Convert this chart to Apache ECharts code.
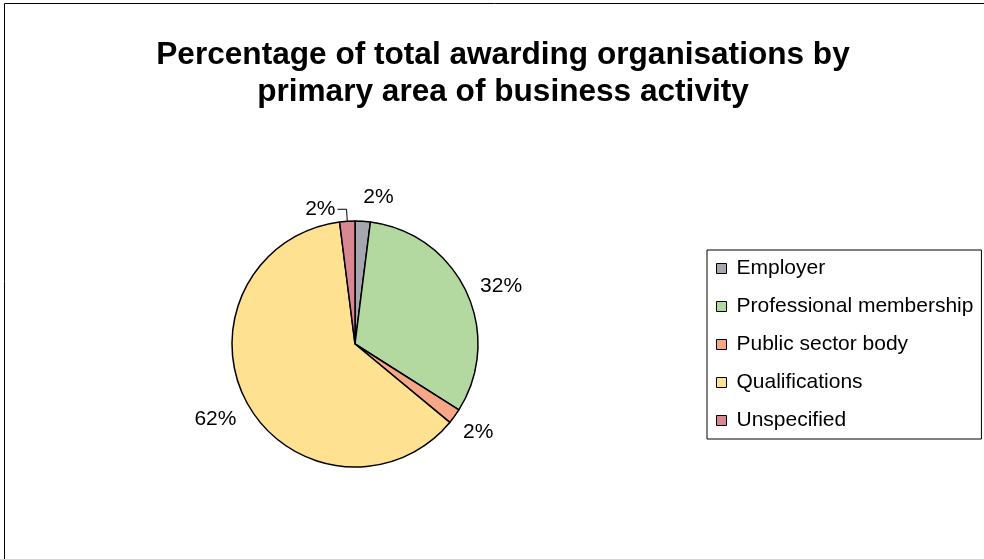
<!DOCTYPE html>
<html>
<head>
<meta charset="utf-8">
<script src="https://cdn.jsdelivr.net/npm/echarts@6/dist/echarts.min.js"></script>
<style>
  html, body { margin: 0; padding: 0; background: #fff; }
  #chart { width: 984px; height: 559px; }
</style>
</head>
<body>
<div id="chart"></div>
<script>
// Awarding organisations by primary area of business activity (% of total)
const categories = ['Employer', 'Professional membership', 'Public sector body', 'Qualifications', 'Unspecified'];
const shares = [2, 32, 2, 62, 2];
const colors = ['#a6a6ae', '#b3d9a0', '#f6a886', '#fee291', '#d98893'];

const FONT = 'Liberation Sans, Arial, sans-serif';
const chart = echarts.init(document.getElementById('chart'), null, { renderer: 'canvas' });

const pieData = categories.map((name, i) => {
  const item = { name: name, value: shares[i], itemStyle: { color: colors[i] } };
  if (name === 'Employer') {
    item.labelLine = { show: false, length: 24, length2: 0 };
  }
  if (name === 'Qualifications') {
    item.labelLine = { show: false, length: 10, length2: 0 };
  }
  if (name === 'Unspecified') {
    item.labelLine = { show: true, length: 12, length2: 9 };
  }
  return item;
});

// small nudges so the outside labels sit a little lower on the lower half
function nudgeLabel(params) {
  if (params.dataIndex === 2) return { dx: -4, dy: 8 };
  if (params.dataIndex === 3) return { dy: 11 };
  if (params.dataIndex === 0) return { dx: -3 };
  return {};
}

chart.setOption({
  backgroundColor: '#ffffff',
  animation: false,
  title: {
    text: 'Percentage of total awarding organisations by\nprimary area of business activity',
    left: 498,
    top: 32,
    textAlign: 'center',
    textStyle: {
      fontFamily: FONT,
      fontWeight: 'bold',
      fontSize: 31.6,
      lineHeight: 37,
      color: '#000'
    }
  },
  legend: {
    orient: 'vertical',
    left: 707,
    top: 250,
    padding: [5, 8, 5, 9],
    borderColor: '#000',
    borderWidth: 1,
    itemWidth: 10,
    itemHeight: 10,
    itemGap: 11,
    icon: 'rect',
    itemStyle: { borderColor: '#000', borderWidth: 1 },
    textStyle: {
      fontFamily: FONT,
      fontSize: 21,
      lineHeight: 27,
      color: '#000',
      padding: [0, 0, 0, 5]
    },
    data: categories
  },
  graphic: [{
    type: 'rect',
    shape: { x: 4.5, y: 3.5, width: 1000, height: 600 },
    style: { fill: 'none', stroke: '#000', lineWidth: 1 },
    silent: true
  }],
  series: [{
    type: 'pie',
    center: [355, 344],
    radius: 123,
    startAngle: 90,
    clockwise: true,
    avoidLabelOverlap: false,
    itemStyle: { borderColor: '#000', borderWidth: 1.5 },
    label: {
      show: true,
      position: 'outside',
      formatter: '{c}%',
      fontFamily: FONT,
      fontSize: 21,
      color: '#000',
      distanceToLabelLine: 2
    },
    labelLine: {
      show: false,
      length: 13,
      length2: 0,
      lineStyle: { color: '#000', width: 1 }
    },
    labelLayout: nudgeLabel,
    emphasis: { disabled: true },
    data: pieData
  }]
});
</script>
</body>
</html>
